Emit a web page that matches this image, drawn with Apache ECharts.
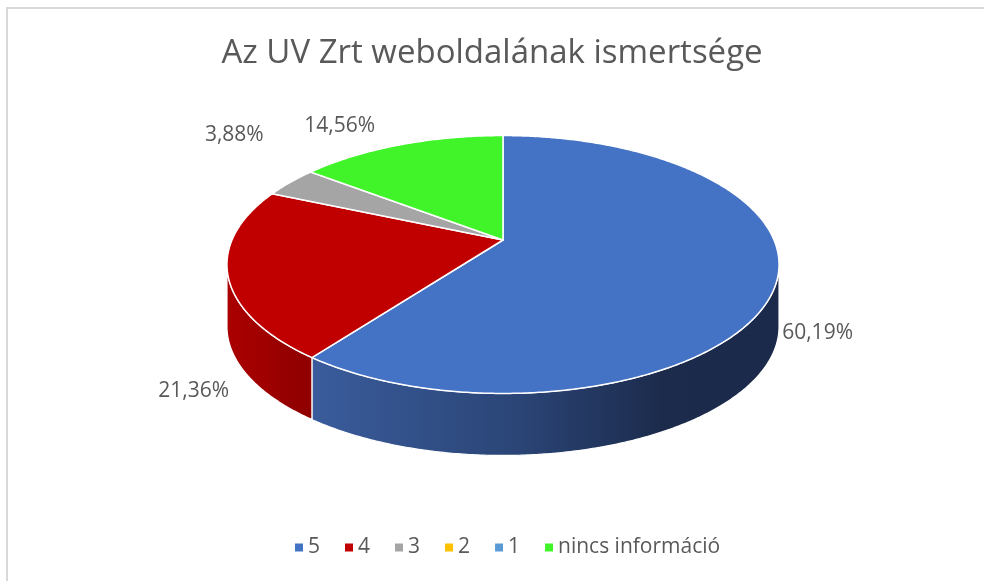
<!DOCTYPE html>
<html>
<head>
<meta charset="utf-8">
<script src="https://cdn.jsdelivr.net/npm/echarts@6/dist/echarts.min.js"></script>
<style>
  html, body { margin: 0; padding: 0; background: #fff; }
  #container { width: 984px; height: 581px; }
</style>
</head>
<body>
<div id="container"></div>
<script>
var titleText = 'Az UV Zrt weboldalának ismertsége';
var categories = ['5', '4', '3', '2', '1', 'nincs információ'];
var values = [60.19, 21.36, 3.88, 0, 0, 14.56];
var labels = ['60,19%', '21,36%', '3,88%', '', '', '14,56%'];
var colors = ['#4472C4', '#C00000', '#A5A5A5', '#FFC000', '#5B9BD5', '#41F42A'];
// side wall gradients (left -> right)
var sideStops = [
    ['#3a5c9c', '#2a4475', '#1c2b4c', '#1b2a4a'],
    ['#aa0000', '#a00000', '#940000', '#900000'],
    ['#8c8c8c', '#858585', '#7c7c7c', '#777777'],
    ['#d9a300', '#c99700', '#b98b00', '#b08400'],
    ['#4d84b5', '#3f6e98', '#33597b', '#2f5271'],
    ['#36cf24', '#2fb81f', '#27a01a', '#239418']
];
// where excel put each data label, relative to the rim point of the slice middle
var labelNudge = [[41, 51], [-34, 118], [-56, -47], [0, 0], [0, 0], [-61, -19]];

// pie geometry (perspective view of a flat cylinder)
var geo = { cx: 503, cy: 240, sx: 271, sy: 124.3, k: 0.19, depth: 62 };
var total = values.reduce(function (a, b) { return a + b; }, 0);
var startAngles = [];
var acc = 0;
values.forEach(function (v) {
    startAngles.push(acc / total * 360);
    acc += v;
});

var proj = function (deg, dy) {
    var t = deg * Math.PI / 180;
    var X = Math.sin(t), Z = Math.cos(t);
    var w = 1 + geo.k * Z;
    return [geo.cx + geo.sx * X / w, geo.cy - geo.sy * Z / w + (dy || 0)];
};
var rim = function (a, b, dy) {
    var pts = [];
    var n = Math.max(2, Math.ceil((b - a) / 0.5));
    for (var j = 0; j <= n; j++) {
        pts.push(proj(a + (b - a) * j / n, dy));
    }
    return pts;
};
// angles where the wall starts / stops being visible
var visLo = Math.acos(-geo.k) * 180 / Math.PI;
var visHi = 360 - visLo;

var makeRender = function (i) {
    return function (params, api) {
        var v = api.value(0);
        var children = [];
        if (!(v > 0)) {
            return { type: 'group', children: children };
        }
        var a = startAngles[i];
        var b = a + v / total * 360;
        var lo = Math.max(a, visLo), hi = Math.min(b, visHi);
        if (hi > lo) {
            var top = rim(lo, hi, 0);
            var bottom = rim(lo, hi, geo.depth).reverse();
            var s = sideStops[i];
            children.push({
                type: 'polygon',
                z2: 1,
                shape: { points: top.concat(bottom) },
                style: {
                    fill: {
                        type: 'linear', x: 0, y: 0, x2: 1, y2: 0,
                        colorStops: [
                            { offset: 0, color: s[0] },
                            { offset: 0.45, color: s[1] },
                            { offset: 0.75, color: s[2] },
                            { offset: 1, color: s[3] }
                        ]
                    },
                    stroke: '#fff',
                    lineWidth: 1.2
                }
            });
        }
        children.push({
            type: 'polygon',
            z2: 10,
            shape: { points: [[geo.cx, geo.cy]].concat(rim(a, b, 0)) },
            style: { fill: colors[i], stroke: '#fff', lineWidth: 1.5, lineJoin: 'round' }
        });
        var mid = proj((a + b) / 2, 0);
        var nd = labelNudge[i];
        children.push({
            type: 'text',
            z2: 20,
            x: mid[0] + nd[0],
            y: mid[1] + nd[1],
            style: {
                text: labels[i],
                fill: '#595959',
                font: '21px "Open Sans", sans-serif',
                align: 'center',
                verticalAlign: 'middle'
            }
        });
        return { type: 'group', children: children };
    };
};

var dom = document.getElementById('container');
var myChart = echarts.init(dom);
var series = categories.map(function (name, i) {
    return {
        type: 'custom',
        name: name,
        coordinateSystem: 'none',
        itemStyle: { color: colors[i] },
        renderItem: makeRender(i),
        data: [[values[i]]]
    };
});

var option = {
    animation: false,
    color: colors,
    title: {
        text: titleText,
        left: 'center',
        top: 32,
        textStyle: {
            color: '#595959',
            fontSize: 33,
            fontWeight: 'normal',
            fontFamily: '"Open Sans", sans-serif'
        }
    },
    legend: {
        bottom: 18,
        left: 290,
        icon: 'rect',
        itemWidth: 8,
        itemHeight: 8,
        itemGap: 25,
        selectedMode: false,
        data: categories,
        textStyle: {
            color: '#595959',
            fontSize: 21,
            fontFamily: '"Open Sans", sans-serif'
        }
    },
    graphic: [{
        type: 'rect',
        silent: true,
        shape: { x: 7, y: 8, width: 1100, height: 700 },
        style: { fill: 'none', stroke: '#d9d9d9', lineWidth: 2 }
    }],
    series: series
};
myChart.setOption(option);
</script>
</body>
</html>
